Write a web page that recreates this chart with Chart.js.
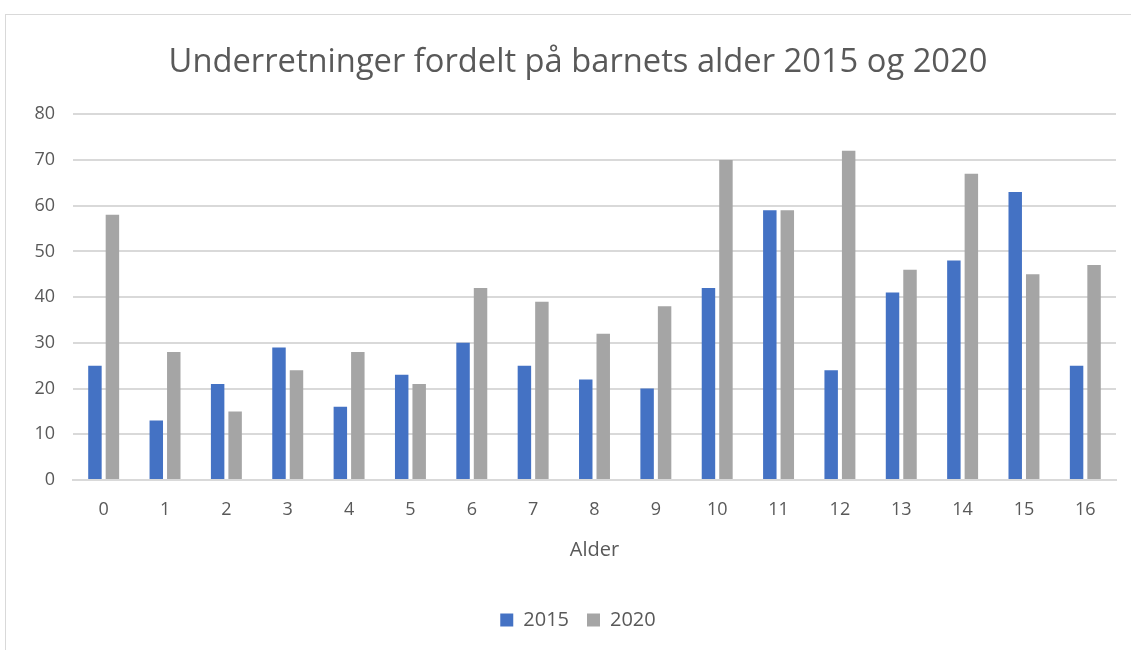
<!DOCTYPE html>
<html>
<head>
<meta charset="utf-8">
<script src="https://cdn.jsdelivr.net/npm/chart.js@4/dist/chart.umd.min.js"></script>
<style>
  html, body { margin: 0; padding: 0; background: #fff; overflow: hidden; }
  #frame { position: absolute; left: 5px; top: 14px; width: 1140px; height: 660px; border: 1px solid #d9d9d9; box-sizing: border-box; }
  #wrap { position: absolute; left: 6px; top: 15px; width: 1125px; height: 635px; }
</style>
</head>
<body>
<div id="frame"></div>
<div id="wrap"><canvas id="c"></canvas></div>
<script>
const titleText = "Underretninger fordelt på barnets alder 2015 og 2020";
const xAxisTitle = "Alder";
const categories = ["0","1","2","3","4","5","6","7","8","9","10","11","12","13","14","15","16"];
const seriesNames = ["2015", "2020"];
const values2015 = [25, 13, 21, 29, 16, 23, 30, 25, 22, 20, 42, 59, 24, 41, 48, 63, 25];
const values2020 = [58, 28, 15, 24, 28, 21, 42, 39, 32, 38, 70, 59, 72, 46, 67, 45, 47];
const yTicks = [0, 10, 20, 30, 40, 50, 60, 70, 80];

const textColor = "#595959";
const fontFamily = "'Open Sans', 'Noto Sans', sans-serif";

// widen the y-axis label area into the left layout padding so labels are not clipped
const widenYAxis = {
  id: "widenYAxis",
  afterLayout(chart) {
    const y = chart.scales.y;
    y.left = 0;
    y.width = y.right - y.left;
  }
};

new Chart(document.getElementById("c"), {
  type: "bar",
  data: {
    labels: categories,
    datasets: [
      { label: seriesNames[0], data: values2015, backgroundColor: "#4472C4", categoryPercentage: 0.57, barPercentage: 0.77 },
      { label: seriesNames[1], data: values2020, backgroundColor: "#A5A5A5", categoryPercentage: 0.57, barPercentage: 0.77 }
    ]
  },
  plugins: [widenYAxis],
  options: {
    responsive: true,
    maintainAspectRatio: false,
    animation: false,
    layout: { padding: { left: 34, right: 15, top: 0, bottom: 10 } },
    plugins: {
      tooltip: { enabled: false },
      title: {
        display: true,
        text: titleText,
        color: textColor,
        font: { family: fontFamily, size: 32.7, weight: "normal" },
        padding: { top: 28, bottom: 32 }
      },
      legend: {
        position: "bottom",
        labels: {
          color: textColor,
          font: { family: fontFamily, size: 20 },
          boxWidth: 13,
          boxHeight: 13,
          padding: 18
        }
      }
    },
    scales: {
      x: {
        grid: { display: false },
        border: { color: "#d9d9d9", width: 2 },
        ticks: { color: textColor, font: { family: fontFamily, size: 18 }, padding: 11, maxRotation: 0 },
        title: { display: true, text: xAxisTitle, color: textColor, font: { family: fontFamily, size: 20 }, padding: { top: 10, bottom: 30 } },
        afterFit: s => { s.height = 112; }
      },
      y: {
        min: 0, max: 80,
        afterBuildTicks: s => { s.ticks = yTicks.map(v => ({ value: v })); },
        grid: { color: "#d9d9d9", lineWidth: 2, drawTicks: false },
        border: { display: false },
        ticks: { color: textColor, font: { family: fontFamily, size: 18 }, padding: 18 },
        afterFit: s => { s.width = 33; }
      }
    }
  }
});
</script>
</body>
</html>
